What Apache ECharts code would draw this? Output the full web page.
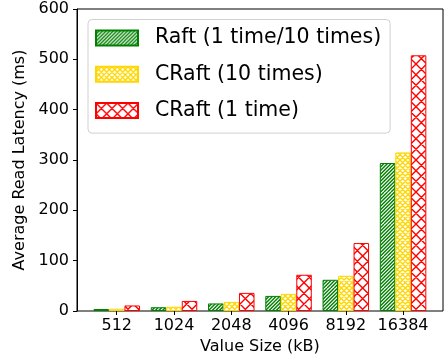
<!DOCTYPE html>
<html>
<head>
<meta charset="utf-8">
<script src="https://cdn.jsdelivr.net/npm/echarts@6/dist/echarts.min.js"></script>
<style>html,body{margin:0;padding:0;background:#fff;}#c{width:446px;height:360px;}</style>
</head>
<body>
<div id="c"></div>
<script>
const categories = ['512', '1024', '2048', '4096', '8192', '16384'];
const raft = [4, 7.5, 15, 30, 62, 294];
const craft10 = [4.5, 8.5, 18, 34, 70, 315];
const craft1 = [11, 20, 36, 72, 135, 508];
const seriesNames = ['Raft (1 time/10 times)', 'CRaft (10 times)', 'CRaft (1 time)'];
const yTicks = [0, 100, 200, 300, 400, 500, 600];

function hatch(color, kind, n) {
  const S = 32;
  const c = document.createElement('canvas');
  c.width = S; c.height = S;
  const g = c.getContext('2d');
  g.fillStyle = '#fff';
  g.fillRect(0, 0, S, S);
  g.strokeStyle = color;
  g.lineWidth = 1.4;
  const p = S / n;
  g.beginPath();
  for (let i = -n; i <= 2 * n; i++) {
    const o = i * p;
    g.moveTo(o, S); g.lineTo(o + S, 0);
    if (kind === 'x') {
      g.moveTo(o, 0); g.lineTo(o + S, S);
    }
  }
  g.stroke();
  return { image: c, repeat: 'repeat' };
}

const font = 'DejaVu Sans';
const chart = echarts.init(document.getElementById('c'), null, { renderer: 'canvas' });

function barSeries(name, data, color, kind, n) {
  return {
    name: name, type: 'bar', xAxisIndex: 1, yAxisIndex: 1,
    data: data, barWidth: 15.5, barGap: '0%',
    itemStyle: { color: hatch(color, kind, n), borderColor: color, borderWidth: 1 },
    emphasis: { disabled: true }, animation: false
  };
}

chart.setOption({
  animation: false,
  textStyle: { fontFamily: font },
  grid: [
    { left: 77, right: 3, top: 9, bottom: 49, show: true, borderColor: '#000', borderWidth: 1, backgroundColor: 'transparent' },
    { left: 88.1, right: 14.3, top: 9, bottom: 49 }
  ],
  xAxis: [
    { type: 'value', gridIndex: 0, min: 0, max: 1, show: false },
    {
      type: 'category', gridIndex: 1, data: categories,
      axisLine: { show: false },
      axisTick: { show: true, alignWithLabel: true, interval: 0, length: 4, lineStyle: { color: '#000' } },
      axisLabel: { color: '#000', fontSize: 16, fontFamily: font, margin: 7, interval: 0 },
      name: 'Value Size (kB)', nameLocation: 'middle', nameGap: 25,
      nameTextStyle: { color: '#000', fontSize: 16, fontFamily: font }
    }
  ],
  yAxis: [
    {
      type: 'value', gridIndex: 0, min: yTicks[0], max: yTicks[yTicks.length - 1], interval: 100,
      axisLine: { show: true, lineStyle: { color: '#000' } },
      axisTick: { show: true, length: 4, lineStyle: { color: '#000' } },
      splitLine: { show: false },
      axisLabel: { color: '#000', fontSize: 16, fontFamily: font, margin: 8 },
      name: 'Average Read Latency (ms)', nameLocation: 'middle', nameGap: 38,
      nameTextStyle: { color: '#000', fontSize: 16, fontFamily: font }
    },
    { type: 'value', gridIndex: 1, min: 0, max: 600, show: false, splitLine: { show: false } }
  ],
  legend: {
    left: 88, top: 19.5, orient: 'vertical',
    data: seriesNames,
    icon: 'rect', itemWidth: 42, itemHeight: 15, itemGap: 15.3,
    padding: [8, 9, 12, 7],
    backgroundColor: 'rgba(255,255,255,0.8)', borderColor: '#d0d0d0', borderWidth: 1, borderRadius: 4,
    textStyle: { color: '#000', fontSize: 20.5, fontFamily: font, lineHeight: 15, padding: [0, 0, 0, 12] }
  },
  series: [
    barSeries(seriesNames[0], raft, '#008000', '/', 9),
    barSeries(seriesNames[1], craft10, '#FFD700', 'x', 6),
    barSeries(seriesNames[2], craft1, '#FF0000', 'x', 3)
  ]
});
</script>
</body>
</html>
